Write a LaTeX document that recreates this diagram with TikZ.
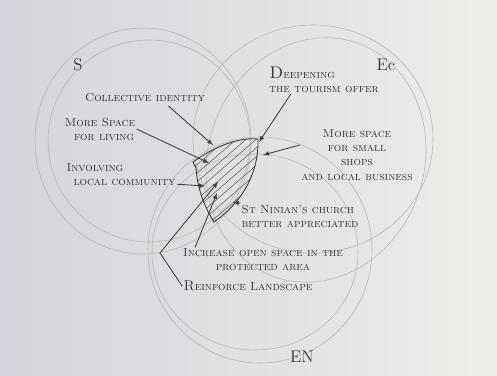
\documentclass[tikz,border=0pt]{standalone}
\usepackage{tikz}
\usetikzlibrary{arrows}
\definecolor{paperleft}{RGB}{212,212,220}
\definecolor{paperright}{RGB}{237,237,233}

\begin{document}
\begin{tikzpicture}[x=0.3mm,y=-0.3mm]
	\tikzset{pencil/.style={gray!55,line width=0.5pt}};
	\tikzset{sketchtext/.style={black!80,font=\scshape,inner sep=1pt,align=left}};
	\tikzset{arrowline/.style={->,>=latex,black!75,line width=0.75pt}};
	\shade[left color=paperleft,right color=paperright] (0,0) rectangle (497,375);
	\draw[pencil] (143,141) ellipse (108 and 113);
	\draw[pencil] (149,141) ellipse (101 and 101);
	\draw[pencil] (313,139) ellipse (120 and 114);
	\draw[pencil,rotate around={-20:(316,160)}] (316,160) ellipse (108 and 124);
	\draw[pencil] (260,250) ellipse (112 and 113);
	\draw[pencil] (255,252) ellipse (103 and 98);
	\begin{scope}
		\clip (193,162) .. controls (215,146) and (240,137) .. (258,139) .. controls (259,170) and (245,200) .. (214,222) .. controls (203,205) and (197,185) .. (196,168) -- cycle;
		\foreach \i in {0,...,10}
			\draw[black!60,line width=0.5pt] (100+\i*10,240) -- ++(150,-130);
	\end{scope}
	\draw[black!75,line width=0.8pt] (193,162) .. controls (215,146) and (240,137) .. (258,139) .. controls (259,170) and (245,200) .. (214,222) .. controls (203,205) and (197,185) .. (196,168) -- cycle;
	\node[sketchtext,font=\Large] (s) at (78,65) {S};
	\node[sketchtext,font=\Large] (ec) at (386,65) {Ec};
	\node[sketchtext,font=\Large] (en) at (302,357) {EN};
	\node[sketchtext] (identity) at (145,97) {Collective identity};
	\node[sketchtext] (living) at (100,129) {More Space\\ \hspace{0.8em}for living};
	\node[sketchtext] (involving) at (121,175) {Involving\\ \hspace{0.6em}local community};
	\node[sketchtext] (deepening) at (324,80) {{\Large D}eepening\\ the tourism offer};
	\node[sketchtext,align=center] (shops) at (357,155) {More space\\ for small\\ shops\\ and local business};
	\node[sketchtext] (church) at (300,216) {St Ninian's church\\ better appreciated};
	\node[sketchtext,align=center] (openspace) at (263,260) {Increase open space in the\\ protected area};
	\node[sketchtext] (landscape) at (248,286) {{\large R}einforce Landscape};
	\coordinate (tidentity) at (213,145);
	\coordinate (tliving) at (209,163);
	\coordinate (tinvolving) at (205,186);
	\coordinate (tdeepening) at (259,142);
	\coordinate (tshops) at (263,155);
	\coordinate (tchurch) at (233,202);
	\coordinate (topenspace) at (217,193);
	\coordinate (tlandscape) at (218,182);
	\coordinate (bend) at (160,253);
	\draw[arrowline] ([xshift=7mm,yshift=-1mm]identity.south) -- (tidentity);
	\draw[arrowline] (living.east) -- (tliving);
	\draw[arrowline] ([yshift=1mm]involving.south east) -- (tinvolving);
	\draw[arrowline] ([xshift=-10mm]deepening.south) -- (tdeepening);
	\draw[arrowline] ([yshift=3mm]shops.west) -- (tshops);
	\draw[arrowline] (church.north west) -- (tchurch);
	\draw[arrowline] ([xshift=4mm]openspace.north west) -- (topenspace);
	\draw[arrowline] (landscape.west) -- (bend) -- (tlandscape);
\end{tikzpicture}
\end{document}
